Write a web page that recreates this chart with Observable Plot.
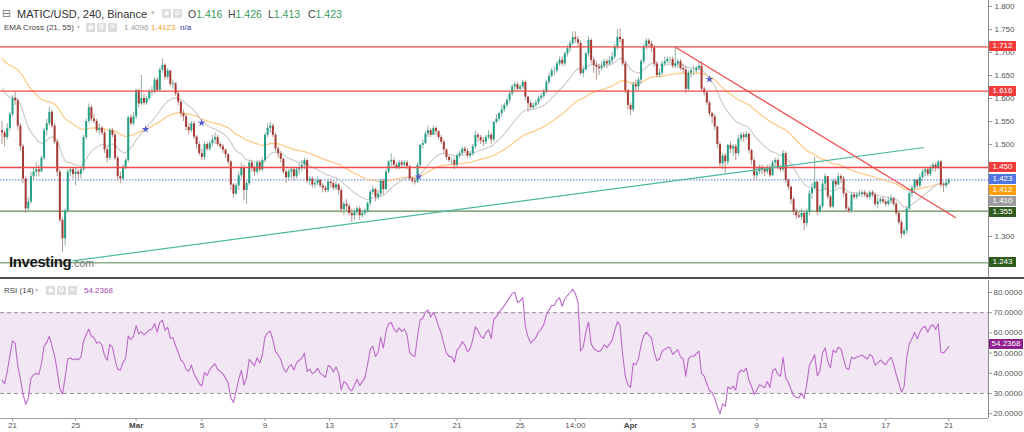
<!DOCTYPE html>
<html><head><meta charset="utf-8">
<script src="https://cdn.jsdelivr.net/npm/d3@7"></script>
<script src="https://cdn.jsdelivr.net/npm/@observablehq/plot@0.6"></script>
<style>
body{margin:0;background:#fff;font-family:"Liberation Sans",Arial,sans-serif;}
#wrap{position:relative;width:1024px;height:432px;overflow:hidden;background:#fff}
.abs{position:absolute;white-space:nowrap;line-height:1}
.ico{position:absolute;width:9px;height:9px;background:#dcdcdc;border-radius:1px;color:#fff;font-size:7px;line-height:9px;text-align:center;font-family:"DejaVu Sans"}
.tag{position:absolute;left:989px;height:10px;line-height:10px;font-size:8px;color:#fff;text-align:center}
svg{position:absolute;left:0;overflow:visible}
</style></head><body><div id="wrap"></div>
<script>
// ---------------- DATA ----------------
const firstOpen = 1.530;
const closes = [
1.525,1.515,1.535,1.565,1.600,1.595,1.540,1.495,1.425,1.360,
1.375,1.430,1.440,1.445,1.440,1.470,1.530,1.545,1.570,1.540,
1.505,1.440,1.335,1.295,1.355,1.440,1.445,1.435,1.440,1.435,
1.445,1.515,1.550,1.580,1.555,1.550,1.530,1.535,1.525,1.488,
1.470,1.530,1.520,1.470,1.430,1.425,1.450,1.465,1.558,1.545,
1.560,1.617,1.588,1.600,1.590,1.600,1.613,1.615,1.640,1.618,
1.662,1.672,1.646,1.660,1.630,1.632,1.610,1.592,1.567,1.560,
1.537,1.530,1.545,1.516,1.500,1.480,1.472,1.500,1.490,1.502,
1.510,1.515,1.500,1.495,1.488,1.478,1.462,1.412,1.392,1.410,
1.432,1.450,1.400,1.415,1.460,1.450,1.440,1.460,1.445,1.465,
1.520,1.535,1.540,1.520,1.490,1.480,1.468,1.440,1.428,1.440,
1.445,1.430,1.445,1.450,1.455,1.465,1.420,1.425,1.412,1.415,
1.422,1.410,1.405,1.400,1.418,1.415,1.405,1.412,1.400,1.358,
1.370,1.365,1.350,1.345,1.352,1.360,1.345,1.350,1.355,1.372,
1.396,1.402,1.385,1.392,1.420,1.402,1.440,1.462,1.465,1.455,
1.450,1.460,1.455,1.460,1.452,1.425,1.420,1.418,1.455,1.498,
1.502,1.523,1.530,1.520,1.535,1.528,1.515,1.505,1.488,1.472,
1.465,1.465,1.455,1.475,1.480,1.490,1.485,1.475,1.480,1.495,
1.520,1.515,1.508,1.505,1.515,1.520,1.510,1.548,1.555,1.567,
1.575,1.585,1.596,1.610,1.625,1.630,1.620,1.625,1.635,1.603,
1.589,1.580,1.585,1.590,1.600,1.605,1.614,1.635,1.648,1.660,
1.660,1.675,1.683,1.675,1.697,1.708,1.719,1.732,1.728,1.720,
1.654,1.662,1.697,1.726,1.683,1.672,1.668,1.665,1.670,1.680,
1.675,1.682,1.690,1.712,1.733,1.728,1.675,1.617,1.585,1.575,
1.630,1.625,1.640,1.680,1.712,1.725,1.718,1.710,1.675,1.650,
1.655,1.675,1.680,1.685,1.685,1.670,1.675,1.680,1.665,1.662,
1.620,1.655,1.660,1.660,1.665,1.670,1.620,1.612,1.590,1.567,
1.560,1.538,1.500,1.458,1.475,1.462,1.498,1.490,1.495,1.480,
1.512,1.520,1.515,1.522,1.487,1.465,1.432,1.440,1.450,1.445,
1.440,1.450,1.432,1.460,1.465,1.450,1.445,1.480,1.422,1.407,
1.380,1.353,1.345,1.342,1.350,1.328,1.353,1.393,1.405,1.418,
1.353,1.365,1.414,1.430,1.386,1.364,1.420,1.412,1.430,1.425,
1.393,1.360,1.355,1.390,1.385,1.390,1.392,1.395,1.390,1.385,
1.395,1.390,1.370,1.375,1.380,1.375,1.370,1.377,1.382,1.370,
1.350,1.330,1.305,1.312,1.360,1.393,1.405,1.422,1.410,1.428,
1.440,1.445,1.435,1.450,1.455,1.448,1.462,1.412,1.410,1.416,1.423];
const highs = [
1.550,1.530,1.545,1.570,1.606,1.614,1.600,1.545,1.500,1.430,
1.385,1.440,1.450,1.460,1.455,1.475,1.535,1.555,1.581,1.575,
1.545,1.510,1.445,1.340,1.360,1.445,1.450,1.450,1.450,1.445,
1.450,1.520,1.555,1.588,1.585,1.565,1.555,1.545,1.540,1.530,
1.495,1.535,1.535,1.525,1.475,1.440,1.455,1.470,1.562,1.565,
1.570,1.620,1.620,1.650,1.610,1.605,1.620,1.625,1.645,1.645,
1.666,1.686,1.675,1.665,1.660,1.640,1.635,1.615,1.595,1.575,
1.565,1.545,1.550,1.550,1.520,1.505,1.490,1.505,1.505,1.507,
1.520,1.525,1.520,1.505,1.500,1.490,1.480,1.465,1.415,1.415,
1.440,1.460,1.455,1.420,1.465,1.465,1.455,1.465,1.465,1.470,
1.525,1.545,1.548,1.545,1.525,1.495,1.485,1.470,1.445,1.445,
1.450,1.450,1.450,1.460,1.465,1.470,1.468,1.430,1.430,1.425,
1.430,1.425,1.415,1.410,1.425,1.425,1.420,1.420,1.415,1.405,
1.375,1.380,1.370,1.360,1.360,1.365,1.365,1.355,1.360,1.375,
1.400,1.410,1.405,1.400,1.425,1.425,1.445,1.465,1.480,1.470,
1.460,1.465,1.465,1.465,1.465,1.455,1.430,1.425,1.460,1.500,
1.510,1.528,1.540,1.535,1.540,1.538,1.530,1.520,1.510,1.490,
1.475,1.470,1.470,1.480,1.485,1.495,1.495,1.490,1.485,1.500,
1.530,1.525,1.520,1.515,1.520,1.530,1.525,1.550,1.565,1.570,
1.585,1.590,1.600,1.615,1.630,1.635,1.635,1.630,1.640,1.638,
1.605,1.595,1.590,1.595,1.605,1.610,1.620,1.640,1.655,1.665,
1.670,1.680,1.690,1.690,1.700,1.715,1.725,1.745,1.745,1.735,
1.725,1.670,1.700,1.735,1.730,1.690,1.680,1.675,1.680,1.685,
1.685,1.690,1.700,1.718,1.750,1.752,1.730,1.680,1.620,1.590,
1.635,1.640,1.645,1.685,1.718,1.730,1.730,1.725,1.715,1.680,
1.665,1.680,1.690,1.690,1.690,1.690,1.712,1.685,1.685,1.675,
1.670,1.660,1.665,1.670,1.670,1.680,1.680,1.625,1.615,1.595,
1.570,1.565,1.540,1.505,1.480,1.480,1.500,1.505,1.500,1.500,
1.520,1.525,1.525,1.528,1.525,1.490,1.470,1.450,1.455,1.455,
1.450,1.455,1.455,1.465,1.470,1.470,1.455,1.487,1.485,1.425,
1.410,1.385,1.360,1.355,1.360,1.355,1.360,1.400,1.415,1.472,
1.420,1.370,1.420,1.436,1.430,1.390,1.425,1.425,1.437,1.435,
1.430,1.395,1.365,1.395,1.395,1.395,1.400,1.400,1.400,1.395,
1.400,1.400,1.395,1.385,1.385,1.385,1.380,1.385,1.390,1.385,
1.375,1.355,1.335,1.318,1.365,1.398,1.410,1.425,1.425,1.435,
1.445,1.448,1.450,1.455,1.460,1.460,1.466,1.465,1.418,1.425,1.426];
const lows = [
1.500,1.495,1.510,1.530,1.560,1.585,1.530,1.485,1.415,1.350,
1.355,1.370,1.420,1.430,1.430,1.440,1.465,1.520,1.540,1.535,
1.500,1.430,1.330,1.265,1.280,1.350,1.430,1.425,1.410,1.420,
1.425,1.440,1.510,1.545,1.550,1.545,1.525,1.520,1.520,1.480,
1.460,1.465,1.515,1.465,1.420,1.415,1.420,1.445,1.460,1.540,
1.540,1.555,1.580,1.585,1.585,1.585,1.595,1.605,1.610,1.615,
1.615,1.655,1.640,1.640,1.625,1.620,1.605,1.585,1.560,1.550,
1.530,1.520,1.525,1.510,1.490,1.475,1.465,1.465,1.485,1.485,
1.495,1.500,1.495,1.490,1.480,1.470,1.455,1.400,1.383,1.390,
1.400,1.425,1.378,1.370,1.410,1.440,1.430,1.435,1.440,1.440,
1.460,1.515,1.525,1.515,1.485,1.470,1.460,1.435,1.415,1.420,
1.425,1.420,1.425,1.435,1.440,1.445,1.415,1.410,1.405,1.405,
1.410,1.405,1.395,1.395,1.395,1.405,1.400,1.400,1.390,1.350,
1.345,1.355,1.345,1.330,1.335,1.345,1.335,1.340,1.345,1.350,
1.365,1.390,1.375,1.380,1.385,1.390,1.400,1.435,1.450,1.450,
1.445,1.445,1.450,1.450,1.445,1.420,1.415,1.412,1.415,1.450,
1.490,1.500,1.515,1.515,1.520,1.520,1.510,1.500,1.480,1.465,
1.460,1.455,1.445,1.450,1.470,1.475,1.480,1.470,1.470,1.475,
1.490,1.505,1.500,1.495,1.500,1.510,1.500,1.505,1.545,1.550,
1.560,1.570,1.580,1.590,1.605,1.615,1.615,1.615,1.620,1.595,
1.570,1.575,1.575,1.580,1.585,1.595,1.600,1.610,1.630,1.645,
1.650,1.655,1.670,1.670,1.670,1.690,1.700,1.715,1.720,1.710,
1.650,1.645,1.660,1.690,1.675,1.655,1.640,1.650,1.660,1.665,
1.665,1.670,1.675,1.685,1.705,1.720,1.670,1.610,1.575,1.563,
1.570,1.615,1.615,1.630,1.675,1.705,1.710,1.700,1.668,1.645,
1.645,1.650,1.670,1.675,1.675,1.665,1.665,1.665,1.660,1.655,
1.610,1.615,1.645,1.650,1.655,1.660,1.615,1.605,1.585,1.560,
1.545,1.530,1.490,1.450,1.445,1.436,1.455,1.480,1.475,1.465,
1.475,1.505,1.505,1.510,1.480,1.455,1.422,1.425,1.435,1.435,
1.430,1.435,1.428,1.430,1.450,1.445,1.440,1.440,1.415,1.400,
1.370,1.345,1.338,1.338,1.335,1.313,1.320,1.345,1.380,1.400,
1.345,1.350,1.360,1.400,1.380,1.360,1.360,1.405,1.410,1.415,
1.385,1.355,1.350,1.350,1.380,1.380,1.385,1.385,1.385,1.380,
1.380,1.385,1.365,1.360,1.370,1.370,1.365,1.365,1.370,1.365,
1.345,1.325,1.295,1.300,1.305,1.355,1.385,1.395,1.405,1.405,
1.420,1.430,1.430,1.430,1.440,1.440,1.445,1.405,1.396,1.405,1.413];

// indicator seeds (values of the averages when the visible range begins)
const ema21Seed = 1.633, ema55Seed = 1.693;
const rsiSeedGain = 0.0060, rsiSeedLoss = 0.0100;

// x axis: candle index of each date label
const tickIdx    = [4, 28, 51, 76, 100, 124.5, 149, 173, 197, 218, 239, 263, 287, 312, 336, 360];
const tickLabels = ["21","25","Mar","5","9","13","17","21","25","14:00","Apr","5","9","13","17","21"];
const boldLabels = ["Mar","Apr"];

const yTicks   = [1.25,1.30,1.35,1.40,1.45,1.50,1.55,1.60,1.65,1.70,1.75,1.80];
const rsiTicks = [20,30,40,50,60,70,80];
const rsiBand  = [30,70];

const resistance = [1.712, 1.616, 1.450];
const support    = [1.355];
const support2   = [1.243];
const lastPrice  = 1.423;

const tagValues = [1.712, 1.616, 1.450, 1.423, 1.412, 1.410, 1.355, 1.243];
const tagKinds  = ["res","res","res","last","ema55","ema21","sup","sup"];
const rsiLast   = 54.2368;

const risingLine  = {i1: 26.8, p1: 1.247, i2: 350.6, p2: 1.4935};
const fallingLine = {i1: 256.1, p1: 1.7115, i2: 362.7, p2: 1.3407};

const crossIdx   = [54.6, 75.9, 158.4, 269.0];
const crossPrice = [1.533, 1.547, 1.430, 1.642];

// ---------------- DERIVED ----------------
const opens = closes.map((c, i) => i === 0 ? firstOpen : closes[i - 1]);
const candles = closes.map((c, i) => ({
  i, o: opens[i], c,
  h: Math.max(highs[i], opens[i], c),
  l: Math.min(lows[i], opens[i], c),
  up: c >= opens[i]
}));
function ema(n, seed) { const k = 2 / (n + 1); let e = seed; return closes.map((c, i) => ({i, v: (e = e + k * (c - e))})); }
const ema21 = ema(21, ema21Seed), ema55 = ema(55, ema55Seed);
let ag = rsiSeedGain, al = rsiSeedLoss;
const rsi = closes.map((c, i) => {
  const d = c - opens[i];
  ag = (ag * 13 + Math.max(d, 0)) / 14;
  al = (al * 13 + Math.max(-d, 0)) / 14;
  return {i, v: 100 - 100 / (1 + ag / al)};
});
const crosses = crossIdx.map((x, k) => ({x, y: crossPrice[k]}));

// ---------------- STYLE ----------------
const UP = "#22a085", DOWN = "#a63a33", WICK_UP = "#8fb0a2", WICK_DOWN = "#b79590";
const tagColor = {res: "#f23c3c", last: "#4f75e2", ema55: "#ff9d0a", ema21: "#9c9c9c", sup: "#2f5b1f"};
const FONT = "Liberation Sans, Arial, sans-serif";
const AXF = 8;
const xDom = [-0.57, 375.1];

const wrap = document.getElementById("wrap");

const main = Plot.plot({
  width: 1024, height: 278,
  marginLeft: 0, marginRight: 36, marginTop: 0, marginBottom: 0,
  x: {domain: xDom, axis: null},
  y: {domain: [1.2087, 1.813], axis: null},
  style: {fontFamily: FONT, fontSize: AXF + "px", color: "#555", background: "transparent"},
  marks: [
    Plot.axisY({anchor: "right", label: null, ticks: yTicks, tickFormat: d3.format(".3f"), tickSize: 3, tickPadding: 3, stroke: "#999", fill: "#555", fontSize: AXF}),
    Plot.ruleY(support2, {stroke: "#8fae86", strokeWidth: 1.6}),
    Plot.ruleY(support, {stroke: "#5f8a50", strokeWidth: 1.2}),
    Plot.ruleY([lastPrice], {stroke: "#4f75e2", strokeWidth: 1, strokeDasharray: "1.5,1.5"}),
    Plot.line(ema55, {x: "i", y: "v", stroke: "#ffc783", strokeWidth: 1.2}),
    Plot.line(ema21, {x: "i", y: "v", stroke: "#cdcdcd", strokeWidth: 1.2}),
    Plot.ruleX(candles, {x: "i", y1: "l", y2: "h", stroke: d => d.up ? WICK_UP : WICK_DOWN, strokeWidth: 1}),
    Plot.ruleX(candles, {x: "i", y1: "o", y2: "c", stroke: d => d.up ? UP : DOWN, strokeWidth: 2}),
    Plot.ruleY(resistance, {stroke: "#f24848", strokeWidth: 1.3}),
    Plot.link([risingLine], {x1: "i1", y1: "p1", x2: "i2", y2: "p2", stroke: "#4cb89c", strokeWidth: 1.2}),
    Plot.link([fallingLine], {x1: "i1", y1: "p1", x2: "i2", y2: "p2", stroke: "#f24a4a", strokeWidth: 1.2}),
    Plot.dot(crosses, {x: "x", y: "y", symbol: "star", r: 2.4, fill: "#5a5ad0", stroke: "none"}),
    Plot.ruleX([xDom[1]], {stroke: "#8c8c8c", strokeWidth: 1})
  ]
});
main.style.top = "0px";
wrap.appendChild(main);

const rsiPlot = Plot.plot({
  width: 1024, height: 152,
  marginLeft: 0, marginRight: 36, marginTop: 0, marginBottom: 14,
  x: {domain: xDom, axis: null},
  y: {domain: [17.62, 85.94], axis: null},
  style: {fontFamily: FONT, fontSize: AXF + "px", color: "#555", background: "transparent"},
  marks: [
    Plot.rect([rsiBand], {x1: xDom[0], x2: xDom[1], y1: d => d[0], y2: d => d[1], fill: "#f2e5f4"}),
    Plot.ruleY(rsiBand, {stroke: "#9b8f9b", strokeDasharray: "4,3", strokeWidth: 1}),
    Plot.line(rsi, {x: "i", y: "v", stroke: "#bb6cc8", strokeWidth: 1.1}),
    Plot.axisY({anchor: "right", label: null, ticks: rsiTicks, tickFormat: d3.format(".4f"), tickSize: 3, tickPadding: 2, stroke: "#999", fill: "#555", fontSize: AXF}),
    Plot.axisX({label: null, ticks: tickIdx.filter((t, k) => !boldLabels.includes(tickLabels[k])), tickFormat: t => tickLabels[tickIdx.indexOf(t)], tickSize: 3, tickPadding: 1, stroke: "#999", fill: "#555", fontSize: AXF}),
    Plot.axisX({label: null, ticks: tickIdx.filter((t, k) => boldLabels.includes(tickLabels[k])), tickFormat: t => tickLabels[tickIdx.indexOf(t)], tickSize: 3, tickPadding: 1, stroke: "#999", fill: "#444", fontSize: AXF, fontWeight: "bold"}),
    Plot.ruleY([17.62], {stroke: "#a0a0a0", strokeWidth: 1.2}),
    Plot.ruleX([xDom[1]], {stroke: "#8c8c8c", strokeWidth: 1})
  ]
});
rsiPlot.style.top = "280px";
wrap.appendChild(rsiPlot);

// panel divider
const div = document.createElement("div");
div.style.cssText = "position:absolute;left:0;top:277px;width:1024px;height:2px;background:#4f4f4f";
wrap.appendChild(div);

// price tags positioned through the plot's y scale, stacked so they do not overlap
const sy = main.scale("y");
const tags = tagValues.map((v, k) => ({v, kind: tagKinds[k], y: sy.apply(v)})).sort((a, b) => a.y - b.y);
let lastBottom = -Infinity;
for (const t of tags) {
  let top = t.y - 5;
  if (top < lastBottom + 1) top = lastBottom + 1;
  lastBottom = top + 10;
  const d = document.createElement("div");
  d.className = "tag";
  d.style.top = top + "px"; d.style.width = "27px"; d.style.background = tagColor[t.kind];
  d.textContent = d3.format(".3f")(t.v);
  wrap.appendChild(d);
}
const ry = rsiPlot.scale("y");
const rt = document.createElement("div");
rt.className = "tag";
rt.style.top = (280 + ry.apply(rsiLast) - 5) + "px"; rt.style.width = "34px"; rt.style.background = "#8e1d8e";
rt.textContent = rsiLast.toFixed(4);
wrap.appendChild(rt);

// headers
function txt(html, left, top, css) {
  const d = document.createElement("div");
  d.className = "abs"; d.style.left = left + "px"; d.style.top = top + "px";
  d.style.cssText += css || "";
  d.innerHTML = html; wrap.appendChild(d); return d;
}
function ico(left, top, g) {
  const d = document.createElement("div"); d.className = "ico";
  d.style.left = left + "px"; d.style.top = top + "px"; d.textContent = g; wrap.appendChild(d);
}
txt("&#8863;", 2, 8, "font-size:11px;color:#777;font-family:DejaVu Sans");
txt("MATIC/USD, 240, Binance", 17, 9, "font-size:11px;color:#333");
txt("&#9662;", 151, 10, "font-size:7px;color:#bbb;font-family:DejaVu Sans");
ico(162, 9, "\u25c9"); ico(173, 9, "\u2699");
const G = "#3b9a5a";
const ohlc = [["O","1.416"],["H","1.426"],["L","1.413"],["C","1.423"]];
txt(ohlc.map(([k, v]) => `<span style="display:inline-block;width:40px">${k}<span style="color:${G}">${v}</span></span>`).join(""), 188, 9, "font-size:10.5px;color:#444");

txt("EMA Cross (21, 55)", 4, 24, "font-size:8px;color:#444");
txt("&#9662;", 77, 24, "font-size:6px;color:#bbb;font-family:DejaVu Sans");
ico(86, 23, "\u25c9"); ico(97, 23, "\u2699"); ico(108, 23, "\u2715");
txt("1.4096", 124, 24, "font-size:8px;color:#9a9a9a");
txt("1.4123", 151, 24, "font-size:8px;color:#f5a21e");
txt("n/a", 180, 24, "font-size:8px;color:#2a3a9e");

txt("RSI (14)", 4, 287, "font-size:8px;color:#444");
txt("&#9662;", 35, 287, "font-size:6px;color:#bbb;font-family:DejaVu Sans");
ico(46, 286, "\u25c9"); ico(57, 286, "\u2699"); ico(68, 286, "\u2715");
txt("54.2368", 84, 287, "font-size:8px;color:#a545b0");

txt(`<span style="font-weight:bold;font-size:15px;color:#161616;letter-spacing:-0.4px">Investing</span><span style="font-size:10.5px;color:#777">.com</span>`, 9, 254, "");
</script></body></html>
